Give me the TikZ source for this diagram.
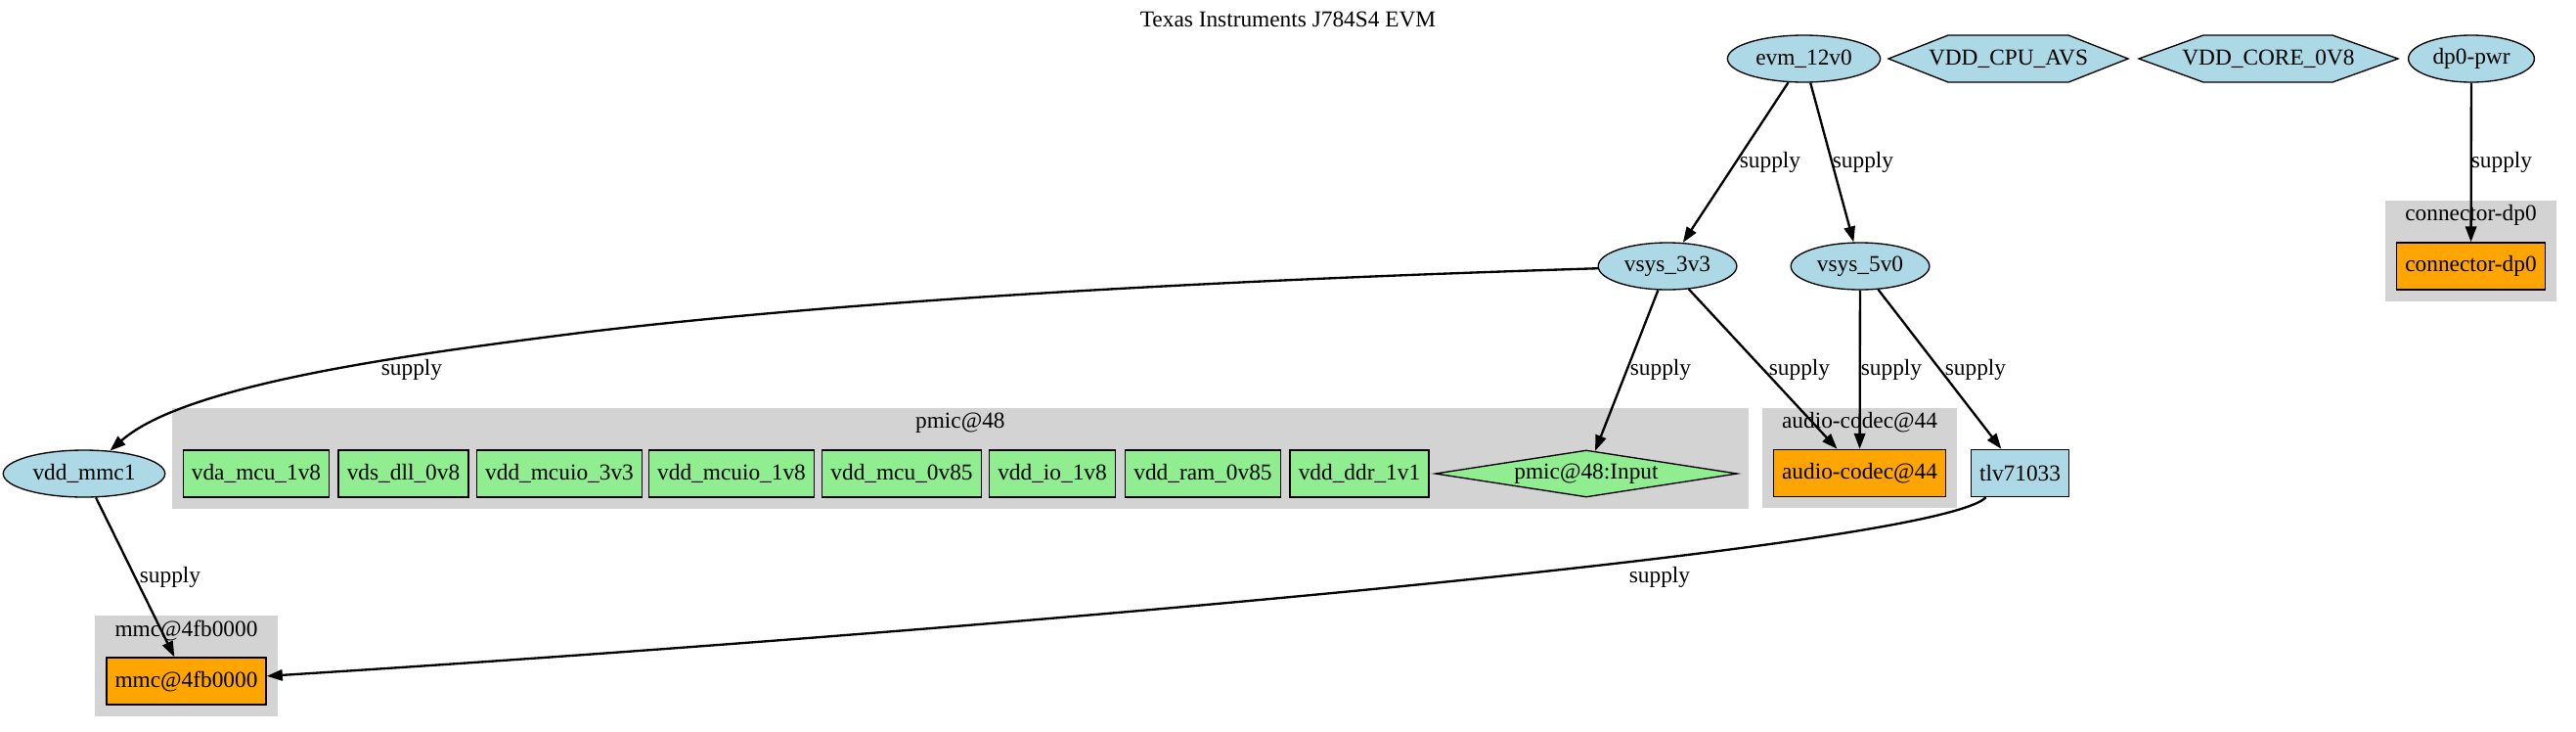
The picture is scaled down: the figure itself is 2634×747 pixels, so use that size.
\documentclass[tikz,border=0pt]{standalone}
\usepackage{fontspec}
\setmainfont{Liberation Serif}
\usetikzlibrary{fit,backgrounds,arrows.meta,shapes.geometric}
\definecolor{railblue}{HTML}{ADD8E6}
\definecolor{ldogreen}{HTML}{90EE90}
\definecolor{devorange}{HTML}{FFA500}
\definecolor{clustergrey}{HTML}{D3D3D3}

\begin{document}
\begin{tikzpicture}[
  x=0.75pt, y=-0.75pt,
  font=\fontsize{17.5}{21}\selectfont,
  rail/.style={ellipse, draw, line width=1pt, fill=railblue, inner xsep=4.5pt, inner ysep=0pt, minimum height=36pt},
  reg/.style={rectangle, draw, line width=1pt, inner xsep=6.5pt, inner ysep=0pt, minimum height=36pt},
  ldo/.style={reg, fill=ldogreen},
  dev/.style={reg, fill=devorange},
  conv/.style={reg, fill=railblue},
  pinput/.style={diamond, draw, line width=1pt, fill=ldogreen, aspect=6.4, inner sep=0pt, minimum width=231.75pt, minimum height=36pt},
  hexa/.style={draw, line width=1pt, fill=railblue},
  hexlbl/.style={inner sep=0pt},
  cluster/.style={fill=clustergrey, inner xsep=8.25pt, inner ysep=8.25pt},
  ttl/.style={inner sep=0pt},
  supply/.style={-{Triangle[length=12pt,width=8.5pt]}, line width=1.75pt},
  lbl/.style={inner sep=0pt},
]
\useasboundingbox (0,0) rectangle (2634,747);

% ---------- title ----------
\node[ttl] (title) at (1317,20) {Texas Instruments J784S4 EVM};

% ---------- top rails ----------
\node[rail] (evm) at (1844.5,60) {evm\_12v0};
\draw[hexa] (1931,60) -- (1992,36) -- (2115,36) -- (2176,60) -- (2115,84) -- (1992,84) -- cycle;
\node[hexlbl] (cpuavs) at (2053.5,60) {VDD\_CPU\_AVS};
\draw[hexa] (2187,60) -- (2253,36) -- (2385,36) -- (2452,60) -- (2385,84) -- (2253,84) -- cycle;
\node[hexlbl] (core) at (2319.5,60) {VDD\_CORE\_0V8};
\node[rail] (dppwr) at (2527,60) {dp0-pwr};

% ---------- second row ----------
\node[rail] (v33) at (1705,272) {vsys\_3v3};
\node[rail] (v50) at (1902,272) {vsys\_5v0};
\node[dev] (conn) at (2526.5,272) {connector-dp0};

% ---------- pmic row ----------
\node[rail] (vmmc) at (86,484) {vdd\_mmc1};
\node[ldo] (ldoa) at (262,484) {vda\_mcu\_1v8};
\node[ldo] (ldob) at (412.5,484) {vds\_dll\_0v8};
\node[ldo] (ldoc) at (572,484) {vdd\_mcuio\_3v3};
\node[ldo] (ldod) at (748,484) {vdd\_mcuio\_1v8};
\node[ldo] (ldoe) at (922,484) {vdd\_mcu\_0v85};
\node[ldo] (ldof) at (1076,484) {vdd\_io\_1v8};
\node[ldo] (ldog) at (1230,484) {vdd\_ram\_0v85};
\node[ldo] (ldoh) at (1390,484) {vdd\_ddr\_1v1};
\node[pinput] (pin) at (1622,484) {pmic@48:Input};
\node[dev] (codec) at (1901.5,483.5) {audio-codec@44};
\node[conv] (tlv) at (2065.5,483.5) {tlv71033};

% ---------- bottom ----------
\node[dev] (mmc) at (190.5,696) {mmc@4fb0000};

% ---------- clusters (background) ----------
\coordinate (pmictop) at ([yshift=23.25pt]ldoa.north);
\coordinate (codectop) at ([yshift=23.25pt]codec.north);
\coordinate (conntop) at ([yshift=23.25pt]conn.north);
\coordinate (mmctop) at ([yshift=23.25pt]mmc.north);
\begin{scope}[on background layer]
  \node[cluster, fit=(ldoa)(pin)(pmictop)] (PMIC) {};
  \node[cluster, fit=(codec)(codectop)] (CODEC) {};
  \node[cluster, fit=(conn)(conntop)] (CONN) {};
  \node[cluster, fit=(mmc)(mmctop)] (MMC) {};
\end{scope}
\node[ttl] (tpmic) at ([yshift=-11.25pt]PMIC.north) {pmic@48};
\node[ttl] (tcodec) at ([yshift=-11.25pt]CODEC.north) {audio-codec@44};
\node[ttl] (tconn) at ([yshift=-11.25pt]CONN.north) {connector-dp0};
\node[ttl] (tmmc) at ([yshift=-11.25pt]MMC.north) {mmc@4fb0000};

% ---------- edges ----------
\draw[supply] (evm) -- (v33);
\node[lbl] (l1) at (1810,166) {supply};
\draw[supply] (evm) -- (v50);
\node[lbl] (l2) at (1905,166) {supply};
\draw[supply] (dppwr) -- (conn);
\node[lbl] (l3) at (2558,166) {supply};

% long run to the mmc rail
\draw[supply] (v33) .. controls (1290,285) and (894,304) .. (594,340)
  .. controls (420,362) and (190,392) .. (vmmc);
\node[lbl] (l4) at (421,378) {supply};

\draw[supply] (v33) -- (pin);
\node[lbl] (l5) at (1698,378) {supply};
\draw[supply] (v33) -- (codec);
\node[lbl] (l6) at (1840,378) {supply};
\draw[supply] (v50) -- (codec);
\node[lbl] (l7) at (1934,378) {supply};
\draw[supply] (v50) -- (tlv);
\node[lbl] (l8) at (2020,378) {supply};

\draw[supply] (vmmc) -- (mmc);
\node[lbl] (l9) at (174,590) {supply};
\draw[supply] ([xshift=12pt]tlv.south west) .. controls (1980,560) and (1000,645) .. (mmc);
\node[lbl] (l10) at (1697,590) {supply};

\end{tikzpicture}
\end{document}
